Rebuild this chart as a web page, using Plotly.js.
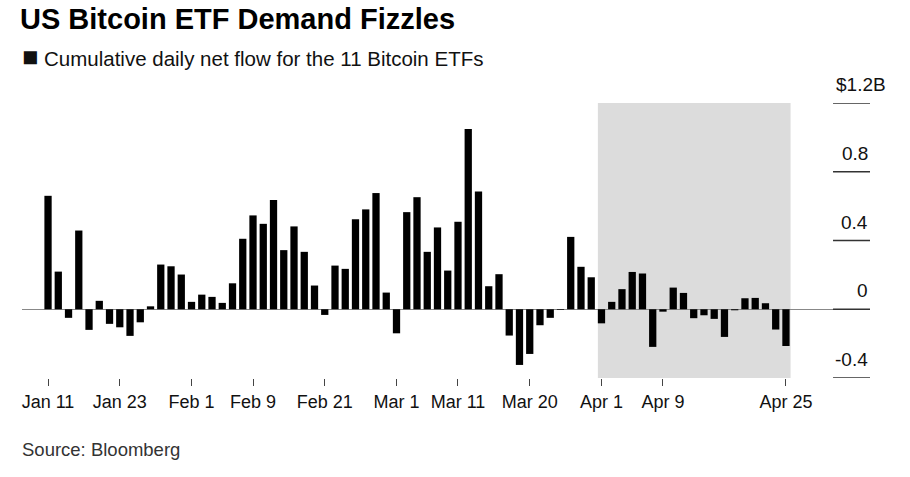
<!DOCTYPE html>
<html>
<head>
<meta charset="utf-8">
<script src="https://cdn.plot.ly/plotly-3.0.1.min.js"></script>
<style>
  html, body { margin: 0; padding: 0; background: #fff; }
  #chart { width: 910px; height: 477px; }
</style>
</head>
<body>
<div id="chart"></div>
<script>
// Trading days (categories)
const dates = [
  '2024-01-11','2024-01-12','2024-01-16','2024-01-17','2024-01-18','2024-01-19',
  '2024-01-22','2024-01-23','2024-01-24','2024-01-25','2024-01-26',
  '2024-01-29','2024-01-30','2024-01-31','2024-02-01','2024-02-02',
  '2024-02-05','2024-02-06','2024-02-07','2024-02-08','2024-02-09',
  '2024-02-12','2024-02-13','2024-02-14','2024-02-15','2024-02-16',
  '2024-02-20','2024-02-21','2024-02-22','2024-02-23',
  '2024-02-26','2024-02-27','2024-02-28','2024-02-29','2024-03-01',
  '2024-03-04','2024-03-05','2024-03-06','2024-03-07','2024-03-08',
  '2024-03-11','2024-03-12','2024-03-13','2024-03-14','2024-03-15',
  '2024-03-18','2024-03-19','2024-03-20','2024-03-21','2024-03-22',
  '2024-03-25','2024-03-26','2024-03-27','2024-03-28',
  '2024-04-01','2024-04-02','2024-04-03','2024-04-04','2024-04-05',
  '2024-04-08','2024-04-09','2024-04-10','2024-04-11','2024-04-12',
  '2024-04-15','2024-04-16','2024-04-17','2024-04-18','2024-04-19',
  '2024-04-22','2024-04-23','2024-04-24','2024-04-25'
];

// Daily net flow, $ billions
const netFlow = [
  0.660, 0.219, -0.050, 0.458, -0.120, 0.049,
  -0.085, -0.105, -0.155, -0.076, 0.017,
  0.260, 0.250, 0.202, 0.043, 0.085,
  0.072, 0.037, 0.151, 0.410, 0.546,
  0.497, 0.635, 0.344, 0.482, 0.334,
  0.138, -0.033, 0.254, 0.235,
  0.524, 0.581, 0.676, 0.097, -0.140,
  0.565, 0.652, 0.334, 0.476, 0.225,
  0.509, 1.049, 0.685, 0.134, 0.204,
  -0.153, -0.324, -0.260, -0.093, -0.050,
  -0.004, 0.421, 0.247, 0.186,
  -0.082, 0.043, 0.117, 0.217, 0.208,
  -0.219, -0.014, 0.126, 0.095, -0.052,
  -0.035, -0.056, -0.161, -0.006, 0.064,
  0.066, 0.035, -0.118, -0.214
];

// X tick labels
const xTickVals = ['2024-01-11','2024-01-23','2024-02-01','2024-02-09','2024-02-21',
                   '2024-03-01','2024-03-11','2024-03-20','2024-04-01','2024-04-09','2024-04-25'];
const xTickText = ['Jan 11','Jan 23','Feb 1','Feb 9','Feb 21',
                   'Mar 1','Mar 11','Mar 20','Apr 1','Apr 9','Apr 25'];

// Y tick labels
const yTickVals = [-0.4, 0, 0.4, 0.8, 1.2];
const yTickText = ['-0.4', '0', '0.4', '0.8', '$1.2B'];

// Shaded period (April)
const shadeStart = '2024-04-01';
const shadeEnd = '2024-04-25';

const FONT = 'Liberation Sans, Arial, Helvetica, sans-serif';

const i0 = dates.indexOf(shadeStart);
const i1 = dates.indexOf(shadeEnd);

const shapes = [
  {type: 'rect', xref: 'x', yref: 'paper', x0: i0 - 0.35, x1: i1 + 0.45, y0: 0, y1: 1,
   fillcolor: '#dcdcdc', line: {width: 0}, layer: 'below'}
];
const annotations = [];
yTickVals.forEach((v, k) => {
  shapes.push({type: 'line', xref: 'paper', yref: 'y', x0: 0.9564, x1: 1, y0: v, y1: v,
               line: {color: '#333', width: 1.3}});
  const isTop = k === yTickVals.length - 1;
  annotations.push({
    xref: 'paper', yref: 'y', x: isTop ? 1.0212 : 1, y: v,
    xanchor: 'right', yanchor: 'bottom', yshift: 6,
    text: yTickText[k], showarrow: false,
    font: {family: FONT, size: 19, color: '#111'}
  });
});

annotations.push({
  xref: 'paper', yref: 'paper', x: -0.0024, y: 1, yshift: 46,
  xanchor: 'left', yanchor: 'middle', showarrow: false,
  text: '<span style="font-size:27px">■</span> Cumulative daily net flow for the 11 Bitcoin ETFs',
  font: {family: FONT, size: 20.5, color: '#111'}
});
annotations.push({
  xref: 'paper', yref: 'paper', x: -0.0024, y: 0, yshift: -71,
  xanchor: 'left', yanchor: 'middle', showarrow: false,
  text: 'Source: Bloomberg',
  font: {family: FONT, size: 18.5, color: '#333'}
});

const trace = {
  type: 'bar',
  x: dates,
  y: netFlow,
  marker: {color: '#000'},
  hoverinfo: 'x+y'
};

const layout = {
  width: 910, height: 477,
  margin: {l: 22, r: 40, t: 103, b: 99},
  paper_bgcolor: '#fff', plot_bgcolor: 'rgba(0,0,0,0)',
  bargap: 0.29,
  showlegend: false,
  title: {
    text: '<b>US Bitcoin ETF Demand Fizzles</b>',
    xref: 'container', yref: 'container',
    x: 20 / 910, xanchor: 'left',
    y: 1 - 19 / 477, yanchor: 'middle',
    font: {family: FONT, size: 29, color: '#000'}
  },
  xaxis: {
    type: 'category',
    categoryorder: 'array', categoryarray: dates,
    range: [-2.54, 80.2],
    tickmode: 'array', tickvals: xTickVals, ticktext: xTickText,
    ticks: 'outside', ticklen: 7, tickwidth: 1, tickcolor: '#444',
    tickfont: {family: FONT, size: 18, color: '#111'},
    showgrid: false, showline: false, zeroline: false,
    fixedrange: true
  },
  yaxis: {
    range: [-0.4, 1.2],
    showticklabels: false, ticks: '',
    showgrid: false, showline: false,
    zeroline: true, zerolinecolor: '#888', zerolinewidth: 1.5,
    fixedrange: true
  },
  shapes: shapes,
  annotations: annotations
};

Plotly.newPlot('chart', [trace], layout, {displayModeBar: false, staticPlot: true});
</script>
</body>
</html>
